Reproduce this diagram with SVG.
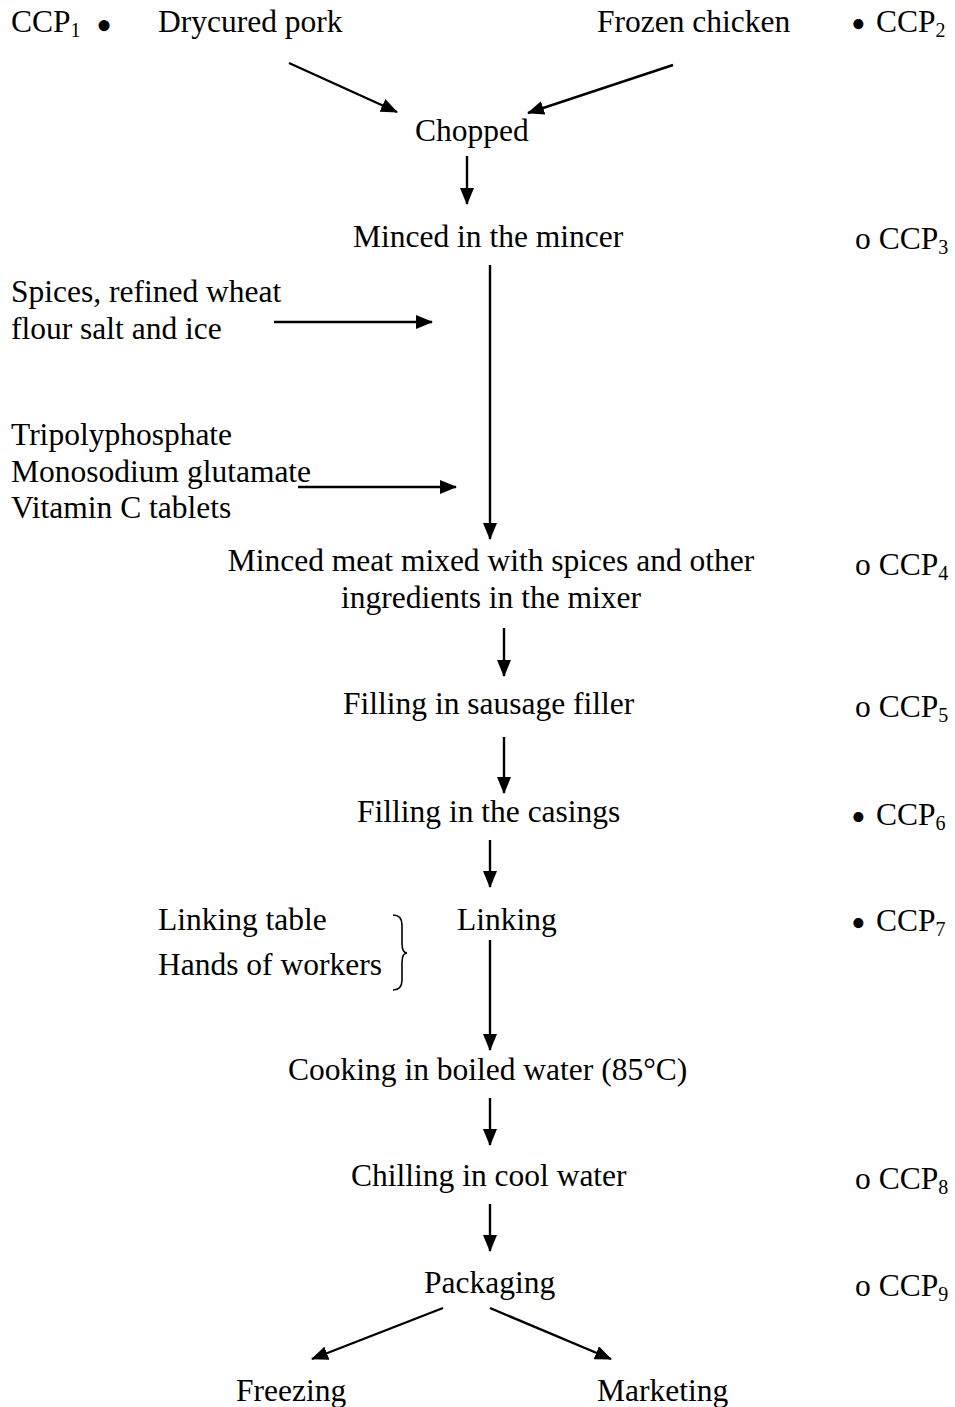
<svg xmlns="http://www.w3.org/2000/svg" width="955" height="1407" viewBox="0 0 955 1407">
<style>
text{font-family:"Liberation Serif","Times New Roman",serif;font-size:31.5px;fill:#000}
.sub{font-size:20px}
.b{font-size:42px}
.c{stroke:#000;stroke-width:2.4;fill:none}
</style>
<defs>
<marker id="ah" viewBox="0 0 17 14" refX="16" refY="7" markerWidth="17" markerHeight="14" markerUnits="userSpaceOnUse" orient="auto">
<path d="M0,0 L17,7 L0,14 z" fill="#000"/>
</marker>
</defs>
<rect width="955" height="1407" fill="#fff"/>
<g id="ccp1"><text x="11" y="32">CCP<tspan class="sub" dy="5">1</tspan></text><text x="96" y="41" style="font-size:46px">•</text></g>
<g id="pork"><text x="158" y="32">Drycured pork</text></g>
<g id="chicken"><text x="597" y="32">Frozen chicken</text></g>
<g id="ccp2"><text class="b" x="851" y="38">•</text><text x="876" y="32">CCP<tspan class="sub" dy="5">2</tspan></text></g>
<g id="chopped"><text x="415" y="141">Chopped</text></g>
<g id="minced"><text x="353" y="247">Minced in the mincer</text></g>
<g id="ccp3"><text x="855" y="249">o CCP<tspan class="sub" dy="5">3</tspan></text></g>
<g id="spices"><text x="11" y="302">Spices, refined wheat</text><text x="11" y="339">flour salt and ice</text></g>
<g id="additives"><text x="11" y="445">Tripolyphosphate</text><text x="11" y="482">Monosodium glutamate</text><text x="11" y="518">Vitamin C tablets</text></g>
<g id="mixed"><text x="491" y="571" text-anchor="middle">Minced meat mixed with spices and other</text><text x="491" y="608" text-anchor="middle">ingredients in the mixer</text></g>
<g id="ccp4"><text x="855" y="575">o CCP<tspan class="sub" dy="5">4</tspan></text></g>
<g id="filler"><text x="343" y="714">Filling in sausage filler</text></g>
<g id="ccp5"><text x="855" y="717">o CCP<tspan class="sub" dy="5">5</tspan></text></g>
<g id="casings"><text x="357" y="822">Filling in the casings</text></g>
<g id="ccp6"><text class="b" x="851" y="831">•</text><text x="876" y="825">CCP<tspan class="sub" dy="5">6</tspan></text></g>
<g id="sources"><text x="158" y="930">Linking table</text><text x="158" y="975">Hands of workers</text><path d="M393,915 q9,0 9,10 v18 q0,10 5,10 q-5,0 -5,10 v17 q0,10 -9,10" stroke="#000" stroke-width="1.6" fill="none"/></g>
<g id="linking"><text x="457" y="930">Linking</text></g>
<g id="ccp7"><text class="b" x="851" y="937">•</text><text x="876" y="931">CCP<tspan class="sub" dy="5">7</tspan></text></g>
<g id="cooking"><text x="288" y="1080">Cooking in boiled water (85°C)</text></g>
<g id="chilling"><text x="351" y="1186">Chilling in cool water</text></g>
<g id="ccp8"><text x="855" y="1189">o CCP<tspan class="sub" dy="5">8</tspan></text></g>
<g id="packaging"><text x="424" y="1293">Packaging</text></g>
<g id="ccp9"><text x="855" y="1296">o CCP<tspan class="sub" dy="5">9</tspan></text></g>
<g id="freezing"><text x="236" y="1401">Freezing</text></g>
<g id="marketing"><text x="597" y="1401">Marketing</text></g>
<g id="connectors">
<line class="c" x1="289" y1="63" x2="397" y2="112" marker-end="url(#ah)"/>
<line class="c" x1="673" y1="65" x2="528" y2="113" marker-end="url(#ah)"/>
<line class="c" x1="467" y1="156" x2="467" y2="204" marker-end="url(#ah)"/>
<line class="c" x1="490" y1="265" x2="490" y2="539" marker-end="url(#ah)"/>
<line class="c" x1="274" y1="322" x2="432" y2="322" marker-end="url(#ah)"/>
<line class="c" x1="298" y1="487" x2="456" y2="487" marker-end="url(#ah)"/>
<line class="c" x1="504" y1="628" x2="504" y2="676" marker-end="url(#ah)"/>
<line class="c" x1="504" y1="737" x2="504" y2="793" marker-end="url(#ah)"/>
<line class="c" x1="490" y1="840" x2="490" y2="887" marker-end="url(#ah)"/>
<line class="c" x1="490" y1="940" x2="490" y2="1050" marker-end="url(#ah)"/>
<line class="c" x1="490" y1="1098" x2="490" y2="1145" marker-end="url(#ah)"/>
<line class="c" x1="490" y1="1204" x2="490" y2="1251" marker-end="url(#ah)"/>
<line class="c" x1="443" y1="1308" x2="312" y2="1359" marker-end="url(#ah)"/>
<line class="c" x1="490" y1="1308" x2="611" y2="1359" marker-end="url(#ah)"/>
</g>
</svg>
